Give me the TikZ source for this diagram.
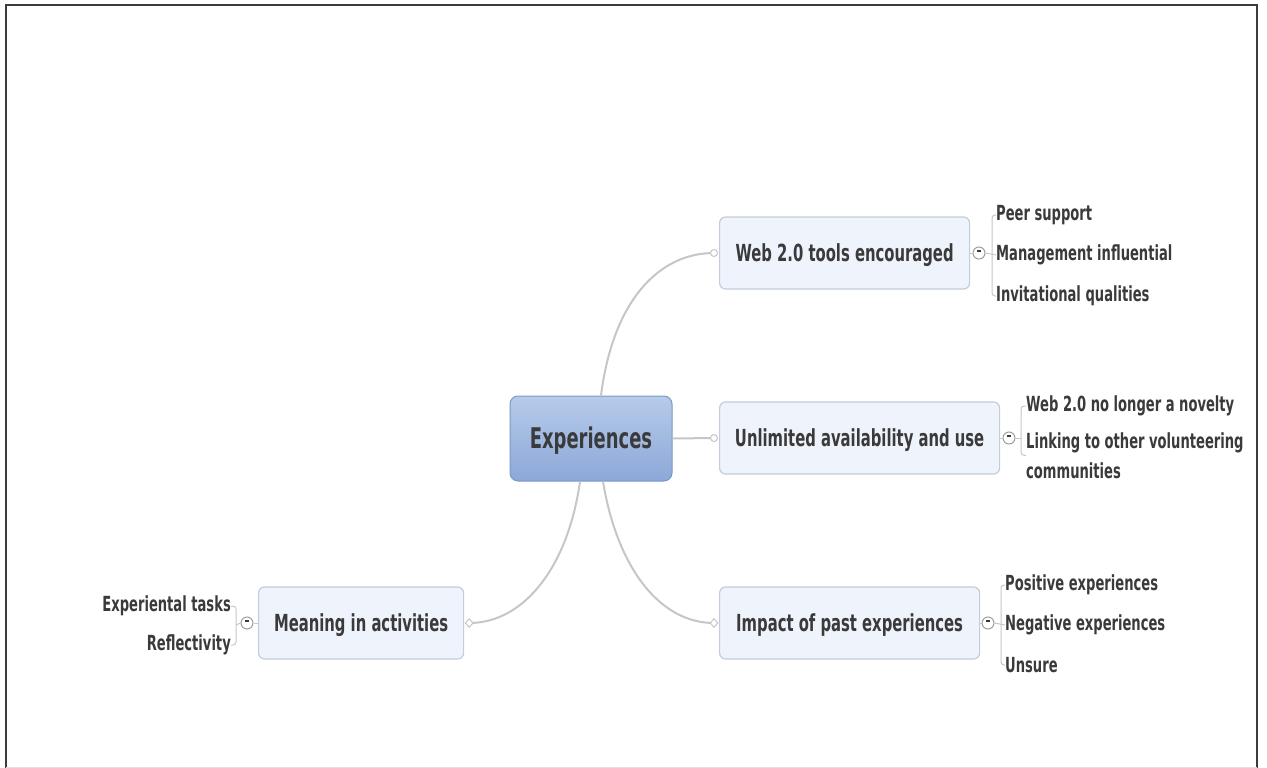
\documentclass[tikz,border=0pt]{standalone}
\usepackage{fontspec}
\newfontfamily\mapfont{DejaVu Sans Bold}[FakeStretch=0.63]
\usetikzlibrary{calc,shapes.geometric}
\definecolor{txt}{HTML}{3A3A3A}
\definecolor{boxfill}{HTML}{EEF3FC}
\definecolor{boxline}{HTML}{C3CCDB}
\definecolor{link}{HTML}{C6C6C6}
\definecolor{hubtop}{HTML}{B7CBEA}
\definecolor{hubbot}{HTML}{8CA8D8}
\definecolor{hubline}{HTML}{7D98C8}
\definecolor{frame}{HTML}{3C3C3C}

\begin{document}
\begin{tikzpicture}[x=1pt,y=-1pt,
  topic/.style={draw=boxline, line width=1.2pt, fill=boxfill, rounded corners=6pt,
    minimum height=72pt, text=txt, inner sep=0pt, text height=18pt, text depth=2pt,
    font=\mapfont\fontsize{23.5}{26}\selectfont},
  hub/.style={draw=hubline, line width=1pt, rounded corners=8pt,
    top color=hubtop, bottom color=hubbot, text=txt,
    minimum width=162pt, minimum height=85pt, inner sep=0pt, text height=22pt, text depth=3pt,
    font=\mapfont\fontsize{28.5}{32}\selectfont},
  leaf/.style={text=txt, inner sep=0pt, font=\mapfont\fontsize{20.8}{30}\selectfont},
  fold/.style={circle, draw=link!80!black, line width=1pt, fill=white, minimum size=12pt,
    inner sep=0pt, text=txt},
  link/.style={draw=link, line width=2pt},
  brace/.style={draw=link, line width=1pt},
  endring/.style={circle, draw=link, line width=1pt, fill=white, minimum size=7pt, inner sep=0pt},
  enddiamond/.style={diamond, draw=link, line width=1pt, fill=white, minimum width=8pt,
    minimum height=9pt, inner sep=0pt}
]
\useasboundingbox (0,0) rectangle (1267,768);

% page frame
\draw[frame, line width=2pt] (6,768) -- (6,5) -- (1257,5) -- (1257,768);
\draw[black!12, line width=1pt] (6,767) -- (1257,767);

% central topic and main branches
\node[hub] (hub) at (591,438.5) {Experiences};
\node[topic, anchor=west, minimum width=250pt] (web) at (719,253) {Web 2.0 tools encouraged};
\node[topic, anchor=west, minimum width=280pt] (uni) at (719,438) {Unlimited availability and use};
\node[topic, anchor=west, minimum width=260pt] (imp) at (719,623) {Impact of past experiences};
\node[topic, anchor=west, minimum width=205pt] (mea) at (258,623) {Meaning in activities};

% connector end points
\coordinate (webin) at ($(web.west)+(-5,0)$);
\coordinate (uniin) at ($(uni.west)+(-5,0)$);
\coordinate (impin) at ($(imp.west)+(-5,0)$);
\coordinate (meain) at ($(mea.east)+(5,0)$);

\draw[link] ($(hub.north)+(10,0)$) .. controls +(12,-95) and +(-55,0) .. (webin);
\draw[link] (hub.east) -- (uniin);
\draw[link] ($(hub.south)+(-11,0)$) .. controls +(-12,85) and +(55,0) .. (meain);
\draw[link] ($(hub.south)+(12,0)$) .. controls +(14,85) and +(-55,0) .. (impin);

\node[endring] at (webin) {};
\node[endring] at (uniin) {};
\node[enddiamond] at (impin) {};
\node[enddiamond] at (meain) {};

% collapse buttons
\node[fold] (webf) at (979,253) {\rule[4.8pt]{4.5pt}{2pt}};
\node[fold] (unif) at (1009,438) {\rule[4.8pt]{4.5pt}{2pt}};
\node[fold] (impf) at (988,623) {\rule[4.8pt]{4.5pt}{2pt}};
\node[fold] (meaf) at (247,623) {\rule[4.8pt]{4.5pt}{2pt}};

\draw[brace] (web.east) -- (webf.west);
\draw[brace] (uni.east) -- (unif.west);
\draw[brace] (imp.east) -- (impf.west);
\draw[brace] (mea.west) -- (meaf.east);

% sub-topics: Web 2.0 tools encouraged
\node[leaf, anchor=west] (w1) at (996,215) {Peer support};
\node[leaf, anchor=west] (w2) at (996,255) {Management influential};
\node[leaf, anchor=west] (w3) at (996,296) {Invitational qualities};
\draw[brace] (webf.east) -- (w2.west);
\draw[brace, rounded corners=3pt] (w1.west) -| (992,255) |- (w3.west);

% sub-topics: Unlimited availability and use
\node[leaf, anchor=west] (u1) at (1026,406) {Web 2.0 no longer a novelty};
\node[leaf, anchor=north west, align=left] (u2) at (1026,432) {Linking to other volunteering\\communities};
\draw[brace] (unif.east) -- (1021,438);
\draw[brace, rounded corners=3pt] (u1.west) -| (1021,438) |- (u2.west);

% sub-topics: Impact of past experiences
\node[leaf, anchor=west] (i1) at (1005,585) {Positive experiences};
\node[leaf, anchor=west] (i2) at (1005,625) {Negative experiences};
\node[leaf, anchor=west] (i3) at (1005,665) {Unsure};
\draw[brace] (impf.east) -- (i2.west);
\draw[brace, rounded corners=3pt] (i1.west) -| (1001,625) |- (i3.west);

% sub-topics: Meaning in activities
\node[leaf, anchor=east] (m1) at (231,606) {Experiental tasks};
\node[leaf, anchor=east] (m2) at (231,645) {Reflectivity};
\draw[brace] (meaf.west) -- (236,625);
\draw[brace, rounded corners=3pt] (m1.east) -| (236,625) |- (m2.east);
\end{tikzpicture}
\end{document}
